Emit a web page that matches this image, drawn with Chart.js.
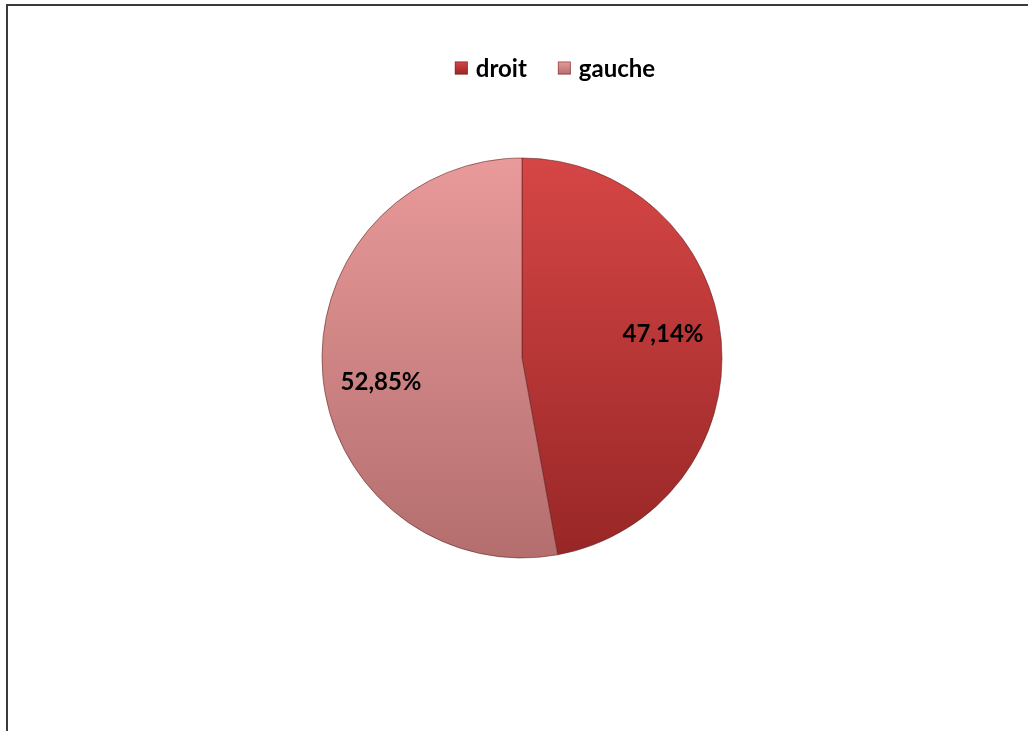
<!DOCTYPE html>
<html>
<head>
<meta charset="utf-8">
<script src="https://cdn.jsdelivr.net/npm/chart.js@4/dist/chart.umd.min.js"></script>
<style>
  html, body { margin: 0; padding: 0; background: #ffffff; }
  #wrap { width: 1028px; height: 731px; position: relative; }
</style>
</head>
<body>
<div id="wrap"><canvas id="c" width="1028" height="731"></canvas></div>
<script>
const categories = ["droit", "gauche"];
const values = [47.14, 52.85];
const valueLabels = ["47,14%", "52,85%"];

const gradStops = [
  ["#d64646", "#982626"],
  ["#e99a9a", "#b46e6e"]
];
const legendColors = ["#c03535", "#d48888"];

const FONT = "Lato, 'DejaVu Sans', sans-serif";

const borderPlugin = {
  id: "frame",
  beforeDraw(chart) {
    const ctx = chart.ctx;
    ctx.save();
    ctx.fillStyle = "#ffffff";
    ctx.fillRect(0, 0, chart.width, chart.height);
    ctx.strokeStyle = "#3a3a3a";
    ctx.lineWidth = 2;
    ctx.strokeRect(7, 5, chart.width + 20, chart.height + 20);
    ctx.restore();
  }
};

// Legend drawn in the top band (positions of the legend band only)
const legendPlugin = {
  id: "topLegend",
  afterDraw(chart) {
    const ctx = chart.ctx;
    ctx.save();
    ctx.font = "bold 24px " + FONT;
    ctx.textBaseline = "middle";
    ctx.textAlign = "left";
    const widths = categories.map(c => ctx.measureText(c).width);
    const box = 13, gap = 8, spacing = 31;
    let total = 0;
    widths.forEach((w, i) => { total += box + gap + w + (i < widths.length - 1 ? spacing : 0); });
    let x = 555 - total / 2;
    const y = 68;
    categories.forEach((c, i) => {
      const g = ctx.createLinearGradient(0, y - box / 2, 0, y + box / 2);
      g.addColorStop(0, gradStops[i][0]);
      g.addColorStop(1, gradStops[i][1]);
      ctx.fillStyle = g;
      ctx.fillRect(x, y - box / 2, box, box);
      ctx.strokeStyle = "rgba(120,40,40,0.5)";
      ctx.lineWidth = 1;
      ctx.strokeRect(x + 0.5, y - box / 2 + 0.5, box - 1, box - 1);
      ctx.fillStyle = "#000000";
      ctx.fillText(c, x + box + gap, y + 1);
      x += box + gap + widths[i] + spacing;
    });
    ctx.restore();
  }
};

const labelPlugin = {
  id: "sliceLabels",
  afterDatasetsDraw(chart) {
    const ctx = chart.ctx;
    const meta = chart.getDatasetMeta(0);
    ctx.save();
    ctx.font = "bold 24px " + FONT;
    ctx.fillStyle = "#000000";
    ctx.textAlign = "center";
    ctx.textBaseline = "middle";
    const shift = -4.5 * Math.PI / 180;
    meta.data.forEach((arc, i) => {
      const p = arc.getProps(["x", "y", "startAngle", "endAngle", "outerRadius"], true);
      const mid = (p.startAngle + p.endAngle) / 2 + shift;
      const r = p.outerRadius * 0.715;
      ctx.fillText(valueLabels[i], p.x + Math.cos(mid) * r, p.y + Math.sin(mid) * r);
    });
    ctx.restore();
  }
};

new Chart(document.getElementById("c"), {
  type: "pie",
  data: {
    labels: categories,
    datasets: [{
      data: values,
      radius: 200,
      backgroundColor(ctx) {
        const chart = ctx.chart;
        const area = chart.chartArea;
        if (!area) return legendColors[ctx.dataIndex];
        const cy = (area.top + area.bottom) / 2;
        const g = chart.ctx.createLinearGradient(0, cy - 200, 0, cy + 200);
        const s = gradStops[ctx.dataIndex % 2];
        g.addColorStop(0, s[0]);
        g.addColorStop(1, s[1]);
        return g;
      },
      borderColor: "rgba(90,30,30,0.55)",
      borderWidth: 1
    }]
  },
  options: {
    responsive: false,
    animation: false,
    layout: { padding: { top: 100, bottom: 115, left: 20, right: 4 } },
    plugins: {
      legend: { display: false },
      tooltip: { enabled: false }
    }
  },
  plugins: [borderPlugin, labelPlugin, legendPlugin]
});
</script>
</body>
</html>
